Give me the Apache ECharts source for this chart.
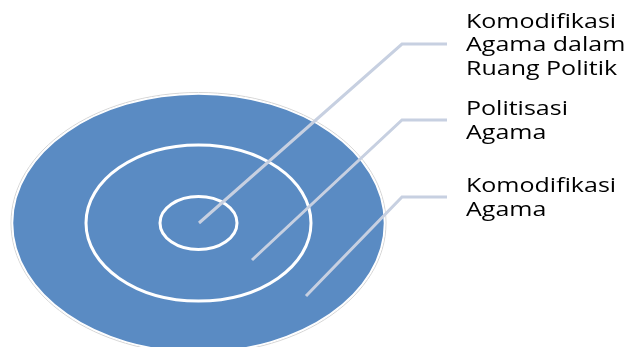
<!DOCTYPE html>
<html>
<head>
<meta charset="utf-8">
<script src="https://cdn.jsdelivr.net/npm/echarts@6/dist/echarts.min.js"></script>
<style>
  html, body { margin: 0; padding: 0; background: #fff; }
  #main { width: 629px; height: 347px; }
</style>
</head>
<body>
<div id="main"></div>
<script>
var chartDom = document.getElementById('main');
var myChart = echarts.init(chartDom);

// layers, from the inside out
var layerLabels = ['Komodifikasi\nAgama dalam\nRuang Politik', 'Politisasi\nAgama', 'Komodifikasi\nAgama'];
var layerRx = [38.5, 112.5, 186];
var layerRy = [26.5, 78, 129];
var centre = [198.5, 223];
// where each leader line starts inside its ring, and the height of its elbow
var leaderStart = [[199, 223], [252, 260], [306, 296]];
var leaderElbowY = [44, 120, 197];

var elbowX = 402, lineEndX = 447, textX = 466;

var ringData = layerRx.map((rx, i) => [centre[0], centre[1], rx, layerRy[i]]);
var leaderData = leaderStart.map((p, i) => [p[0], p[1], leaderElbowY[i], i]);

var option = {
    animation: false,
    grid: { left: 0, right: 0, top: 0, bottom: 0 },
    xAxis: { type: 'value', min: 0, max: 629, show: false },
    yAxis: { type: 'value', min: 0, max: 347, inverse: true, show: false },
    series: [
        {
            type: 'custom',
            data: ringData.slice().reverse(),
            renderItem: function (params, api) {
                var c = api.coord([api.value(0), api.value(1)]);
                var s = api.size([api.value(2), api.value(3)]);
                var outer = params.dataIndex == 0;
                if (outer) {
                    return {
                        type: 'group',
                        children: [
                            { type: 'ellipse', shape: { cx: c[0], cy: c[1], rx: s[0] + 1.5, ry: s[1] + 1.5 },
                              style: { fill: 'none', stroke: '#d6d6d6', lineWidth: 1 } },
                            { type: 'ellipse', shape: { cx: c[0], cy: c[1], rx: s[0], ry: s[1] },
                              style: { fill: '#5a8bc3', stroke: '#ffffff', lineWidth: 1.5 } }
                        ]
                    };
                }
                return {
                    type: 'ellipse',
                    shape: { cx: c[0], cy: c[1], rx: s[0], ry: s[1] },
                    style: { fill: 'none', stroke: '#ffffff', lineWidth: 3 }
                };
            }
        },
        {
            type: 'custom',
            data: leaderData,
            renderItem: function (params, api) {
                var a = api.coord([api.value(0), api.value(1)]);
                var b = api.coord([elbowX, api.value(2)]);
                var e = api.coord([lineEndX, api.value(2)]);
                var t = api.coord([textX, api.value(2)]);
                return {
                    type: 'group',
                    children: [
                        { type: 'polyline', shape: { points: [a, b, e] },
                          style: { fill: 'none', stroke: '#c7d0e1', lineWidth: 3 } },
                        { type: 'text', x: t[0], y: t[1] + 1.5, scaleX: 1.25,
                          style: { text: layerLabels[api.value(3)], fill: '#000000',
                                   font: '20px "Open Sans"', lineHeight: 23.5,
                                   align: 'left', verticalAlign: 'middle' } }
                    ]
                };
            }
        }
    ]
};
option && myChart.setOption(option);
</script>
</body>
</html>
